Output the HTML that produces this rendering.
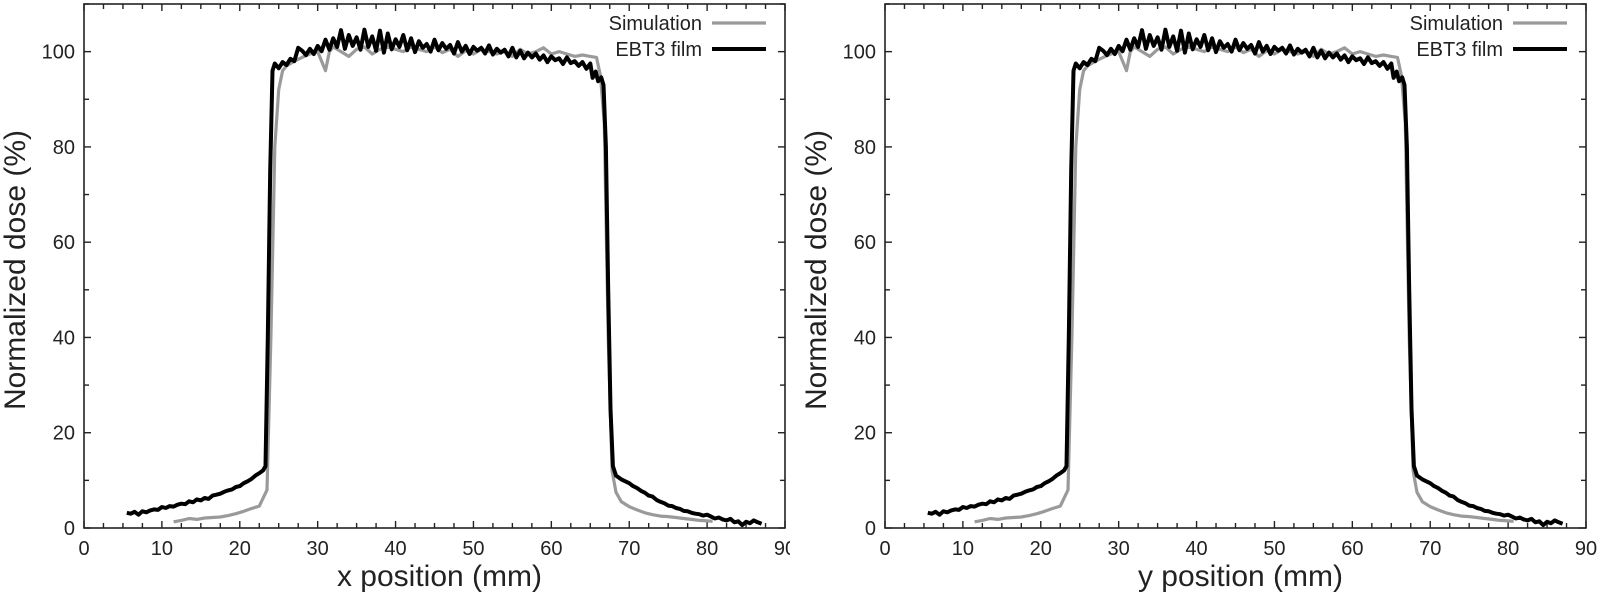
<!DOCTYPE html>
<html><head><meta charset="utf-8"><style>
html,body{margin:0;padding:0;background:#fff;}
svg text{font-family:"Liberation Sans",sans-serif;fill:#222;}
</style></head><body>
<svg id="chart" width="1606" height="594" viewBox="0 0 1606 594" xmlns="http://www.w3.org/2000/svg">
<defs><clipPath id="clipL"><rect x="0" y="0" width="790" height="594"/></clipPath></defs>
<g id="panelL" clip-path="url(#clipL)"></g>
<g id="panelR"></g>
</svg>
<script>
const xTicks = [0,10,20,30,40,50,60,70,80,90];
const yTicks = [0,20,40,60,80,100];
const filmX = [5.5,6,6.5,7,7.5,8,8.5,9,9.5,10,10.5,11,11.5,12,12.5,13,13.5,14,14.5,15,15.5,16,16.5,17,17.5,18,18.5,19,19.5,20,20.5,21,21.5,22,22.5,23,23.3,23.6,23.9,24.2,24.5,25,25.5,26,26.5,27,27.5,28,28.5,29,29.5,30,30.5,31,31.5,32,32.5,33,33.5,34,34.5,35,35.5,36,36.5,37,37.5,38,38.5,39,39.5,40,40.5,41,41.5,42,42.5,43,43.5,44,44.5,45,45.5,46,46.5,47,47.5,48,48.5,49,49.5,50,50.5,51,51.5,52,52.5,53,53.5,54,54.5,55,55.5,56,56.5,57,57.5,58,58.5,59,59.5,60,60.5,61,61.5,62,62.5,63,63.5,64,64.5,65,65.3,65.7,66,66.4,66.7,67,67.3,67.6,67.9,68.3,69,69.5,70,70.5,71,71.5,72,72.5,73,73.5,74,74.5,75,75.5,76,76.5,77,77.5,78,78.5,79,79.5,80,80.5,81,81.5,82,82.5,83,83.5,84,84.5,85,85.5,86,86.5,87];
const filmY = [3.2,3.0,3.4,2.8,3.5,3.3,3.7,3.9,3.8,4.4,4.2,4.6,4.5,4.9,5.1,5.0,5.6,5.4,6.0,5.8,6.3,6.1,6.8,7.0,7.2,7.6,7.9,8.1,8.6,8.8,9.4,9.8,10.3,11.0,11.5,12.1,13,40,75,96,97.5,96.5,97.8,97.2,98.5,98,100.8,100.2,99.3,100.6,99.5,101.2,100.1,102.5,100.4,102.8,101.0,104.5,100.6,103.5,101.2,103.0,100.4,104.6,101.0,103.2,100.2,104.4,99.8,103.8,100.5,102.6,101.0,103.5,100.3,102.8,99.9,102.2,100.8,101.6,100.0,102.5,100.3,101.8,100.6,101.4,99.6,102.0,100.0,101.2,99.5,101.0,100.2,100.8,99.6,101.3,99.4,100.6,99.8,100.4,99.0,100.8,98.8,100.2,98.6,99.8,98.8,99.6,98.3,99.2,97.8,99.0,98.2,98.6,97.4,98.8,97.6,98.0,97.0,97.8,96.4,97.5,94.5,95.8,93.8,94.6,93.0,80,50,25,13,11,10.2,9.8,9.4,8.8,8.4,7.8,7.4,6.8,6.6,5.9,5.5,5.2,4.7,4.6,4.2,4.0,3.6,3.5,3.2,3.0,2.9,2.6,2.8,2.4,2.0,2.2,1.8,1.6,1.9,1.2,1.4,0.6,1.3,1.0,1.6,1.2,0.9];
const simX = [11.5,12.5,13.5,14.5,15.5,16.5,17.5,18.5,19.5,20.5,21.5,22.5,23.5,24.0,24.5,25.0,25.5,26,27,28,29,30,31,31.5,32,33,34,35,36,37,38,39,40,41,42,43,44,45,46,47,48,49,50,51,52,53,54,55,56,57,58,59,60,61,62,63,64,65,65.8,66.3,66.8,67.3,67.8,68.3,69,70,71,72,73,74,75,76,77,78,79,80,80.7];
const simY = [1.3,1.6,2.0,1.8,2.1,2.2,2.3,2.6,3.0,3.5,4.1,4.6,8.0,40,80,92,96,97,98,98.8,99.5,100,96,100,101,100,99,100.5,101,99.5,100.5,101,100.5,100,101,100.5,100,101,99.8,100.5,99,100.2,99.5,100.5,100,99.5,100,99,100.5,99.5,100,100.8,99.5,100,99.5,99,99.3,99,98.8,95,85,40,12,7.5,5.5,4.5,3.8,3.2,2.8,2.5,2.4,2.2,2.0,1.8,1.6,1.5,1.4];
const NS = 'http://www.w3.org/2000/svg';
function mk(parent, tag, attrs, txt){
  const e = document.createElementNS(NS, tag);
  for (const k in attrs) e.setAttribute(k, attrs[k]);
  if (txt !== undefined) e.textContent = txt;
  parent.appendChild(e); return e;
}
function panel(g, left, axisName){
  const L = left, R = left + 701, T = 4, B = 528;
  const sx = v => L + (v/90)*(R-L);
  const sy = v => B - (v/110)*(B-T);
  const fr = mk(g,'rect',{x:L,y:T,width:R-L,height:B-T,fill:'none',stroke:'#222','stroke-width':1.6});
  
  
  for (let v=0; v<=90.01; v+=2.5){
    const major = Math.abs(v/10 - Math.round(v/10))<1e-6;
    const len = major?7:5;
    mk(g,'line',{x1:sx(v),x2:sx(v),y1:B,y2:B-len,stroke:'#222','stroke-width':1.4});
    mk(g,'line',{x1:sx(v),x2:sx(v),y1:T,y2:T+len,stroke:'#222','stroke-width':1.4});
  }
  xTicks.forEach(v=>{
    const t = mk(g,'text',{x:sx(v),y:555,'text-anchor':'middle','font-size':20}, String(v));
    
    
  });
  for (let v=0; v<=110.01; v+=10){
    const major = (v%20)===0;
    const len = major?7:5;
    mk(g,'line',{x1:L,x2:L+len,y1:sy(v),y2:sy(v),stroke:'#222','stroke-width':1.4});
    mk(g,'line',{x1:R,x2:R-len,y1:sy(v),y2:sy(v),stroke:'#222','stroke-width':1.4});
  }
  yTicks.forEach(v=>{
    const t = mk(g,'text',{x:L-9,y:sy(v)+7,'text-anchor':'end','font-size':20}, String(v));
    
    
  });
  const xt = mk(g,'text',{x:(L+R)/2+5,y:586,'text-anchor':'middle','font-size':30}, axisName+' position (mm)');
  
  
  const yt = mk(g,'text',{x:0,y:0,'text-anchor':'middle','font-size':30,transform:`translate(${L-59},${(T+B)/2+4}) rotate(-90)`}, 'Normalized dose (%)');
  
  
  const path = (xs,ys)=>xs.map((x,i)=>(i?'L':'M')+sx(x).toFixed(1)+','+sy(ys[i]).toFixed(1)).join('');
  const sim = mk(g,'path',{d:path(simX,simY),fill:'none',stroke:'#9a9a9a','stroke-width':3.2,'stroke-linejoin':'round'});
  
  
  const film = mk(g,'path',{d:path(filmX,filmY),fill:'none',stroke:'#000','stroke-width':4,'stroke-linejoin':'round'});
  
  
  const lg = mk(g,'g',{});
  
  
  mk(lg,'text',{x:R-83,y:30,'text-anchor':'end','font-size':20},'Simulation');
  mk(lg,'line',{x1:R-73,x2:R-19,y1:23,y2:23,stroke:'#9a9a9a','stroke-width':3.2});
  mk(lg,'text',{x:R-83,y:56,'text-anchor':'end','font-size':20},'EBT3 film');
  mk(lg,'line',{x1:R-73,x2:R-19,y1:49,y2:49,stroke:'#000','stroke-width':4});
}
const gL = document.getElementById('panelL');


const gR = document.getElementById('panelR');


panel(gL, 84, 'x');
panel(gR, 885, 'y');
</script>
</body></html>
